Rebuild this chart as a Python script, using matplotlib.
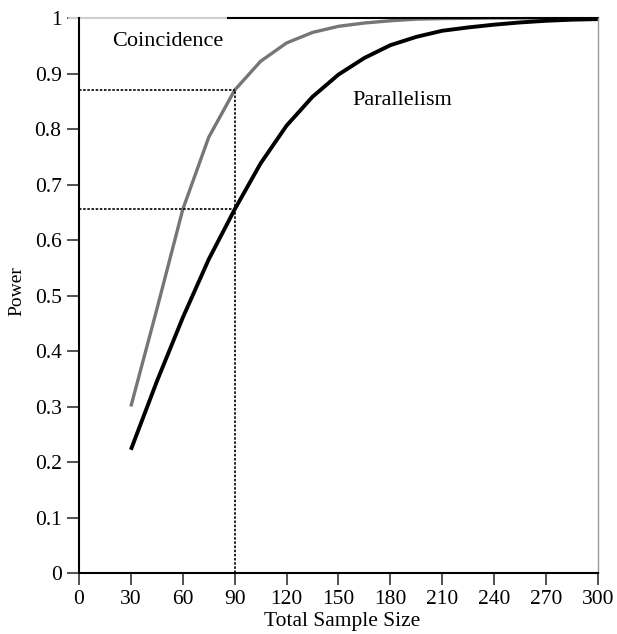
import matplotlib
matplotlib.use("Agg")
import matplotlib.pyplot as plt

plt.rcParams['font.family'] = ['Liberation Serif', 'DejaVu Serif']

# total sample size
n_coin = [30, 45, 60, 75, 90, 105, 120, 135, 150, 165, 180, 195, 210, 240, 270, 300]
power_coin = [0.30, 0.475, 0.655, 0.785, 0.87, 0.922, 0.955, 0.974, 0.985, 0.991,
              0.995, 0.998, 0.999, 1.0, 1.0, 1.0]

n_par = [30, 45, 60, 75, 90, 105, 120, 135, 150, 165, 180, 195, 210, 225, 240,
         255, 270, 285, 300]
power_par = [0.222, 0.345, 0.46, 0.565, 0.655, 0.738, 0.806, 0.858, 0.898, 0.928,
             0.951, 0.966, 0.977, 0.983, 0.988, 0.992, 0.995, 0.997, 0.998]

ref_n = 90
ref_coin = 0.87
ref_par = 0.655

xticks = list(range(0, 301, 30))
yticks = [0, 0.1, 0.2, 0.3, 0.4, 0.5, 0.6, 0.7, 0.8, 0.9, 1]
ytick_labels = ['0', '0.1', '0.2', '0.3', '0.4', '0.5', '0.6', '0.7', '0.8', '0.9', '1']

fs = 15.5
fig = plt.figure(figsize=(6.17, 6.34), dpi=100)
ax = fig.add_axes([0.128, 0.0962, 0.841, 0.8754])

ax.plot(n_coin, power_coin, color='#767676', lw=2.4, solid_capstyle='butt')
ax.plot(n_par, power_par, color='black', lw=2.8, solid_capstyle='butt')

# dotted reference lines
dot = dict(color='black', lw=1.2, ls=(0, (1.5, 1)))
ax.plot([0, ref_n], [ref_coin, ref_coin], **dot)
ax.plot([0, ref_n], [ref_par, ref_par], **dot)
ax.plot([ref_n, ref_n], [0, ref_coin], **dot)

# top border line
ax.plot([-6, 86], [1, 1], color='#cfcfcf', lw=1.5, clip_on=False)
ax.plot([86, 300], [1, 1], color='black', lw=1.5, clip_on=False)

ax.text(19, 0.958, 'Coincidence', fontsize=16, va='center', ha='left')
ax.text(158, 0.852, 'Parallelism', fontsize=16, va='center', ha='left')

ax.set_xlim(0, 300)
ax.set_ylim(0, 1)
ax.set_xticks(xticks)
ax.set_yticks(yticks)
ax.set_yticklabels(ytick_labels)
ax.tick_params(axis='both', labelsize=fs, direction='out', length=8.5, width=1.2,
               color='#333333', pad=4)

ax.spines['top'].set_visible(False)
ax.spines['right'].set_color('#999999')
ax.spines['right'].set_linewidth(1.0)
ax.spines['left'].set_linewidth(1.5)
ax.spines['bottom'].set_linewidth(1.5)

ax.set_xlabel('Total Sample Size', fontsize=15.5)
ax.set_ylabel('Power', fontsize=14)
ax.xaxis.set_label_coords(0.507, -0.0865)
ax.xaxis.label.set_va('center')
ax.yaxis.set_label_coords(-0.119, 0.508)
ax.yaxis.label.set_va('center')

fig.savefig('out.png', dpi=100)
